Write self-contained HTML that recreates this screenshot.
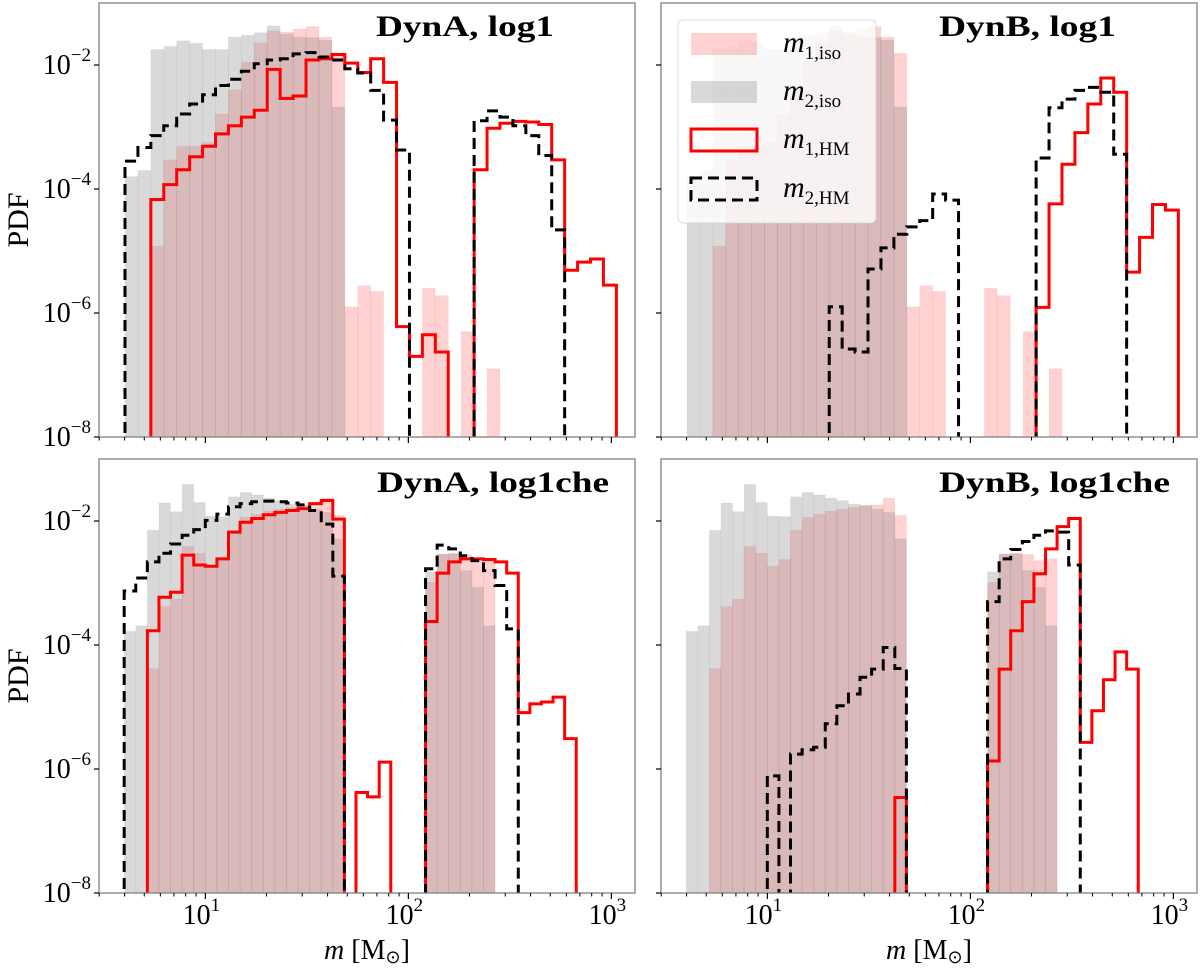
<!DOCTYPE html>
<html><head><meta charset="utf-8">
<style>
html,body{margin:0;padding:0;background:#fff;}
svg{display:block;font-family:"Liberation Serif",serif;}
</style></head>
<body>
<svg id="fig" width="1200" height="968" viewBox="0 0 1200 968" xmlns="http://www.w3.org/2000/svg"></svg>
<script>
// ---- data: log10(PDF) per log-spaced mass bin (null = empty bin) ----
// top row bins (log10 m): start and width
var topBinStart = 0.604, topBinWidth = 0.0637;
var botBinStart = 0.600, botBinWidth = 0.0571;

var topM1iso = [null,null,-4.92,-3.53,-3.31,-3.31,-3.25,-2.79,-2.40,-1.95,-1.64,-1.45,-1.47,-1.42,-1.38,-1.55,-1.81,-5.9,-5.56,-5.65,null,null,null,-5.6,-5.72,null,-6.3,null,-6.9];
var topM2iso = [-3.80,-3.70,-1.75,-1.70,-1.61,-1.65,-1.75,-1.75,-1.55,-1.52,-1.48,-1.37,-1.50,-1.55,-1.56,-1.60,-2.68];
var dynALog1M1HM = [null,null,-4.17,-3.93,-3.69,-3.48,-3.31,-3.11,-2.98,-2.84,-2.73,-2.07,-2.54,-2.50,-1.92,-1.90,-1.83,-1.97,-2.12,-1.90,-2.28,-6.22,-6.70,-6.35,-6.63,null,null,-3.69,-3.02,-2.94,-2.91,-2.92,-2.96,-3.53,-5.31,-5.18,-5.13,-5.55];
var dynALog1M2HM = [-3.55,-3.33,-3.14,-2.98,-2.79,-2.63,-2.48,-2.33,-2.23,-2.10,-1.98,-1.92,-1.90,-1.82,-1.80,-1.87,-1.92,-2.06,-2.13,-2.41,-2.89,-3.37,null,null,null,null,null,-2.90,-2.74,-2.84,-2.98,-3.14,-3.46,-4.66];
var dynBLog1M1HM = [null,null,null,null,null,null,null,null,null,null,null,null,null,null,null,null,null,null,null,null,null,null,null,null,null,null,null,-5.91,-4.24,-3.60,-3.09,-2.63,-2.21,-2.44,-5.34,-4.78,-4.25,-4.34];
var dynBLog1M2HM = [null,null,null,null,null,null,null,null,null,null,null,-5.90,-6.58,-6.63,-5.29,-4.95,-4.73,-4.61,-4.51,-4.08,-4.18,null,null,null,null,null,null,-3.50,-2.69,-2.55,-2.41,-2.36,-2.44,-3.44];

var botM1iso = [null,null,-4.38,-3.38,-3.26,-2.41,-2.52,-2.73,-2.62,-2.15,-1.94,-1.89,-1.84,-1.81,-1.78,-1.75,-1.74,-1.63,-1.91,null,null,null,null,null,null,null,-2.99,-2.54,-2.52,-2.54,-2.64,-2.61];
var botM2iso = [-3.78,-3.69,-2.15,-1.71,-1.85,-1.41,-1.70,-1.92,-1.93,-1.61,-1.54,-1.58,-1.63,-1.67,-1.73,-1.75,-1.81,-1.86,-2.29,null,null,null,null,null,null,null,-2.82,-2.53,-2.53,-2.80,-3.07,-3.69];
var dynACheM1HM = [null,null,-3.77,-3.23,-3.15,-2.55,-2.71,-2.73,-2.61,-2.18,-2.02,-1.96,-1.90,-1.86,-1.83,-1.80,-1.72,-1.67,-1.97,null,-6.38,-6.45,-5.89,null,null,null,-3.62,-2.84,-2.66,-2.61,-2.61,-2.62,-2.66,-2.84,-5.09,-4.95,-4.92,-4.84,-5.51];
var dynACheM2HM = [-3.13,-2.92,-2.66,-2.52,-2.37,-2.23,-2.14,-1.99,-1.89,-1.77,-1.72,-1.69,-1.68,-1.69,-1.71,-1.74,-1.83,-2.05,-2.89,null,null,null,null,null,null,null,-2.77,-2.39,-2.45,-2.56,-2.64,-2.80,-3.04,-3.74];
var dynBCheM1HM = [null,null,null,null,null,null,null,null,null,null,null,null,null,null,null,null,null,null,-6.46,null,null,null,null,null,null,null,-5.87,-4.39,-3.77,-3.30,-2.85,-2.45,-2.09,-1.96,-5.57,-5.06,-4.56,-4.11,-4.39];
var dynBCheM2HM = [null,null,null,null,null,null,null,-6.11,null,-5.76,-5.69,-5.65,-5.27,-4.98,-4.79,-4.52,-4.39,-4.04,-4.38,null,null,null,null,null,null,null,-3.30,-2.61,-2.46,-2.33,-2.23,-2.16,-2.18,-2.71];

var panelTitles = [["DynA","log1"],["DynB","log1"],["DynA","log1che"],["DynB","log1che"]];
var yTickExps = [-2,-4,-6,-8];
var xTickExps = [1,2,3];
var legendLabels = [["m","1,iso"],["m","2,iso"],["m","1,HM"],["m","2,HM"]];

// ---- layout ----
var NS = "http://www.w3.org/2000/svg";
var svg = document.getElementById("fig");
var xLogMin = 0.476, pxPerDec = 203, yTop = -1, yBot = -8, pxPerDecY = 62;
var panels = [
  {x:99,y:3,name:"dyna-log1",bs:topBinStart,bw:topBinWidth,m1iso:topM1iso,m2iso:topM2iso,m1:dynALog1M1HM,m2:dynALog1M2HM,ylab:true,xlab:false,tx:376,tw:178},
  {x:661,y:3,name:"dynb-log1",bs:topBinStart,bw:topBinWidth,m1iso:topM1iso,m2iso:topM2iso,m1:dynBLog1M1HM,m2:dynBLog1M2HM,ylab:false,xlab:false,tx:939,tw:177,legend:true},
  {x:99,y:459,name:"dyna-log1che",bs:botBinStart,bw:botBinWidth,m1iso:botM1iso,m2iso:botM2iso,m1:dynACheM1HM,m2:dynACheM2HM,ylab:true,xlab:true,tx:377,tw:232},
  {x:661,y:459,name:"dynb-log1che",bs:botBinStart,bw:botBinWidth,m1iso:botM1iso,m2iso:botM2iso,m1:dynBCheM1HM,m2:dynBCheM2HM,ylab:false,xlab:true,tx:939,tw:231}
];
var PW = 536, PH = 434;

function mk(tag, attrs, parent){
  var e = document.createElementNS(NS, tag);
  for (var k in attrs) e.setAttribute(k, attrs[k]);
  (parent||svg).appendChild(e);
  return e;
}

panels.forEach(function(p, pi){
  function X(logm){ return p.x + (logm - xLogMin)*pxPerDec; }
  function Y(lv){ return p.y + (yTop - lv)*pxPerDecY; }
  var bottom = p.y + PH;
  var g = mk("g", {});
  
  
  var cp = mk("clipPath", {id:"clip"+pi}, g);
  mk("rect", {x:p.x, y:p.y, width:PW, height:PH}, cp);
  var plot = mk("g", {"clip-path":"url(#clip"+pi+")"}, g);

  function bars(arr, fill, nm){
    var bg = mk("g", {}, plot);
    
    
    arr.forEach(function(v, k){
      if (v === null) return;
      var x0 = X(p.bs + k*p.bw), x1 = X(p.bs + (k+1)*p.bw);
      var r = mk("rect", {x:x0, y:Y(v), width:x1-x0, height:bottom-Y(v), fill:fill, stroke:"rgba(120,80,80,0.06)", "stroke-width":0.8}, bg);
      
      
    });
  }
  function step(arr, color, dash, nm){
    var first = -1, last = -1;
    arr.forEach(function(v,k){ if (v!==null){ if(first<0) first=k; last=k; } });
    if (first < 0) return;
    var low = bottom + 30;
    var d = "M" + X(p.bs + first*p.bw) + "," + low;
    for (var k = first; k <= last; k++){
      var yy = arr[k] === null ? low : Y(arr[k]);
      d += " L" + X(p.bs + k*p.bw) + "," + yy + " L" + X(p.bs + (k+1)*p.bw) + "," + yy;
    }
    d += " L" + X(p.bs + (last+1)*p.bw) + "," + low;
    var a = {d:d, fill:"none", stroke:color, "stroke-width":3, "stroke-linejoin":"miter"};
    if (dash) a["stroke-dasharray"] = dash;
    var path = mk("path", a, plot);
    
    
  }
  bars(p.m1iso, "rgba(255,0,0,0.18)", "m1-iso-hist");
  bars(p.m2iso, "rgba(128,128,128,0.3)", "m2-iso-hist");
  step(p.m1, "#ff0000", null, "m1-hm-step");
  step(p.m2, "#000000", "11,6", "m2-hm-step");

  // frame
  var fr = mk("rect", {x:p.x, y:p.y, width:PW, height:PH, fill:"none", stroke:"#808080", "stroke-width":1.3}, g);
  
  

  // y ticks
  yTickExps.forEach(function(e){
    var yy = Y(e);
    mk("line", {x1:p.x-5, x2:p.x, y1:yy, y2:yy, stroke:"#000", "stroke-width":1.2}, g);
    if (p.ylab){
      var t = mk("text", {x:p.x-8, y:yy+9, "text-anchor":"end", "font-size":28, fill:"#000"}, g);
      
      
      t.innerHTML = '10<tspan dy="-13" font-size="19">\u2212' + (-e) + '</tspan>';
    }
  });
  // x ticks
  for (var dec = 0; dec <= 3; dec++){
    for (var m = 1; m <= 9; m++){
      var lm = dec + Math.log10(m);
      var xx = X(lm);
      if (xx < p.x - 0.5 || xx > p.x + PW + 0.5) continue;
      var major = (m === 1);
      mk("line", {x1:xx, x2:xx, y1:bottom, y2:bottom + (major?6:3.5), stroke:"#000", "stroke-width":major?1.2:1}, g);
    }
  }
  if (p.xlab){
    xTickExps.forEach(function(e){
      var t = mk("text", {x:X(e)-4, y:bottom+31, "text-anchor":"middle", "font-size":28, fill:"#000"}, g);
      
      
      t.innerHTML = '10<tspan dy="-13" font-size="19">' + e + '</tspan>';
    });
    var xl = mk("text", {x:p.x + 268, y:bottom+66, "text-anchor":"middle", "font-size":28, fill:"#000"}, g);
    
    
    xl.innerHTML = '<tspan font-style="italic">m</tspan> [M<tspan font-size="18" dy="4">\u2299</tspan><tspan dy="-4">]</tspan>';
  }
  if (p.ylab){
    var yl = mk("text", {x:0, y:0, "text-anchor":"middle", "font-size":30, fill:"#000", transform:"translate(28," + (p.y + PH/2) + ") rotate(-90)"}, g);
    
    
    yl.textContent = "PDF";
  }
  // title
  var tt = mk("text", {x:p.tx, y:p.y+33, "font-size":30, "font-weight":"bold", fill:"#000", textLength:p.tw, lengthAdjust:"spacingAndGlyphs"}, g);
  
  
  tt.textContent = panelTitles[pi][0] + ", " + panelTitles[pi][1];

  if (p.legend){
    var lg = mk("g", {}, g);
    
    
    mk("rect", {x:678, y:20, width:198, height:203, rx:5, fill:"rgba(255,255,255,0.8)", stroke:"rgba(210,210,210,0.8)", "stroke-width":1}, lg);
    var rows = [33, 81, 129, 178];
    var styles = [
      {fill:"rgba(255,0,0,0.18)", stroke:"none"},
      {fill:"rgba(128,128,128,0.3)", stroke:"none"},
      {fill:"none", stroke:"#ff0000"},
      {fill:"none", stroke:"#000", dash:"11,6"}
    ];
    rows.forEach(function(ry, i){
      var s = styles[i];
      var a = {x:691, y:ry, width:66, height:22, fill:s.fill, stroke:s.stroke, "stroke-width":s.stroke==="none"?0:3};
      if (s.dash) a["stroke-dasharray"] = s.dash;
      var patch = mk("rect", a, lg);
      
      
      var lt = mk("text", {x:783, y:ry+19, "font-size":30, fill:"#000"}, lg);
      
      
      lt.innerHTML = '<tspan font-style="italic">' + legendLabels[i][0] + '</tspan><tspan font-size="19" dy="7">' + legendLabels[i][1] + '</tspan>';
    });
  }
});
</script>
</body></html>
